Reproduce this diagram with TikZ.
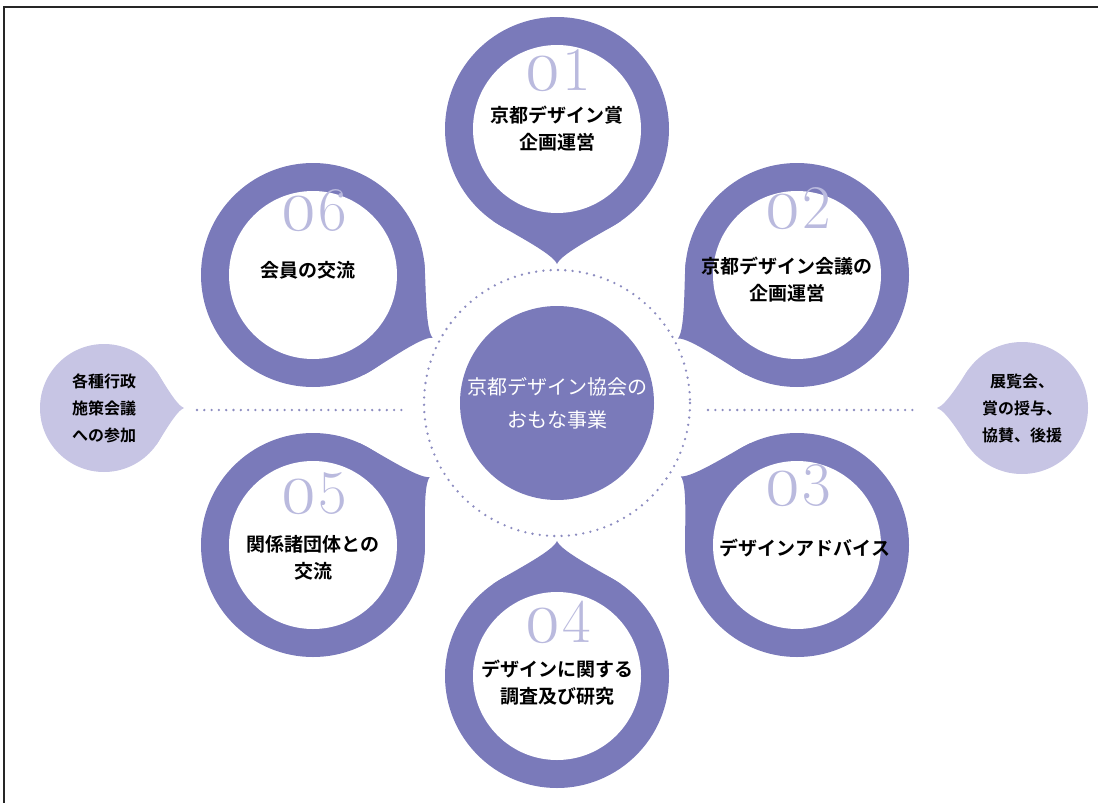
\documentclass[tikz,border=0pt]{standalone}
\usepackage{fontspec}
\newfontfamily\jpfont{Noto Sans CJK JP}[BoldFont={Noto Sans CJK JP Bold}]
\newfontfamily\numfont{Latin Modern Roman}[Numbers=OldStyle]
\usetikzlibrary{calc}

\definecolor{ring}{RGB}{122,122,186}
\definecolor{sidefill}{RGB}{199,197,228}
\definecolor{dotcol}{RGB}{140,140,192}
\definecolor{numcol}{RGB}{186,186,222}

\newcommand\nzero{{\numfont\fontsize{74}{74}\selectfont 0}}

\tikzset{
  bubtext/.style={font=\jpfont\bfseries\fontsize{19}{27}\selectfont,align=center,inner sep=0pt},
  sidetext/.style={font=\jpfont\bfseries\fontsize{16}{27}\selectfont,align=center,inner sep=0pt},
  hubtext/.style={font=\jpfont\fontsize{20}{33}\selectfont,align=center,text=white,inner sep=0pt},
  num/.style={font=\fontsize{62}{62}\selectfont,text=numcol,anchor=base,inner sep=0pt},
  dotline/.style={dotcol,line width=2.6pt,line cap=round,dash pattern=on 0pt off 7.3pt},
}

\newcommand\drop[5]{%
  \begin{scope}[shift={#1}]
    \pgfmathsetmacro\dropctl{1.012*#3}
    \pgfmathsetmacro\dropmid{#3+0.52*(#4-#3)}
    \fill[#5] (0,0) circle[radius=#3];
    \fill[#5] (#2+35:#3) .. controls (#2+26:\dropctl) and (#2+2:\dropmid) .. (#2:#4)
      .. controls (#2-2:\dropmid) and (#2-26:\dropctl) .. (#2-35:#3) -- (0,0) -- cycle;
  \end{scope}}

\begin{document}
\begin{tikzpicture}[x=1pt,y=-1pt]
\useasboundingbox (0,0) rectangle (1098,803);
\draw[line width=2.5pt,black!85] (4,803) -- (4,7) -- (1098,7);

\coordinate (hub) at (557,403);
\coordinate (b1) at (557,129);
\coordinate (b2) at (797,275);
\coordinate (b3) at (797,545);
\coordinate (b4) at (557,676);
\coordinate (b5) at (313,545);
\coordinate (b6) at (313,275);
\coordinate (s1) at (104,408);
\coordinate (s2) at (1022,408);

\drop{(b1)}{90}{112}{135}{ring}
\drop{(b2)}{151.9}{112}{135}{ring}
\drop{(b3)}{-149.4}{112}{135}{ring}
\drop{(b4)}{-90}{112}{135}{ring}
\drop{(b5)}{-30.2}{112}{135}{ring}
\drop{(b6)}{27.7}{112}{135}{ring}
\foreach \b in {b1,b2,b3,b4,b5,b6}
  \fill[white] (\b) circle[radius=84];

\drop{(s1)}{0}{64}{80}{sidefill}
\drop{(s2)}{180}{66}{85}{sidefill}

\fill[ring] (hub) circle[radius=97];
\draw[dotline] (hub) circle[radius=133];
\node[hubtext] (hubt) at (hub) {京都デザイン協会の\\おもな事業};

\node[num] (n1) at ($(b1)+(0,-39)$) {\nzero 1};
\node[num] (n2) at ($(b2)+(0,-47)$) {\nzero 2};
\node[num] (n3) at ($(b3)+(0,-40)$) {\nzero 3};
\node[num] (n4) at ($(b4)+(0,-34)$) {\nzero 4};
\node[num] (n5) at ($(b5)+(0,-32)$) {\nzero 5};
\node[num] (n6) at ($(b6)+(0,-45)$) {\nzero 6};

\node[bubtext] (t1) at ($(b1)+(0,0)$) {京都デザイン賞\\企画運営};
\node[bubtext] (t2) at ($(b2)+(-10,5)$) {京都デザイン会議の\\企画運営};
\node[bubtext] (t3) at ($(b3)+(8,3)$) {デザインアドバイス};
\node[bubtext] (t4) at ($(b4)+(0,7)$) {デザインに関する\\調査及び研究};
\node[bubtext] (t5) at ($(b5)+(0,13)$) {関係諸団体との\\交流};
\node[bubtext] (t6) at ($(b6)+(-5,-5)$) {会員の交流};

\node[sidetext] (st1) at (s1) {各種行政\\施策会議\\への参加};
\node[sidetext] (st2) at (s2) {展覧会、\\賞の授与、\\協賛、後援};

\coordinate (l1) at (197,410);
\coordinate (l2) at (405,410);
\coordinate (r1) at (708,410);
\coordinate (r2) at (917,410);
\draw[dotline] (l1) -- (l2);
\draw[dotline] (r1) -- (r2);

\end{tikzpicture}
\end{document}
